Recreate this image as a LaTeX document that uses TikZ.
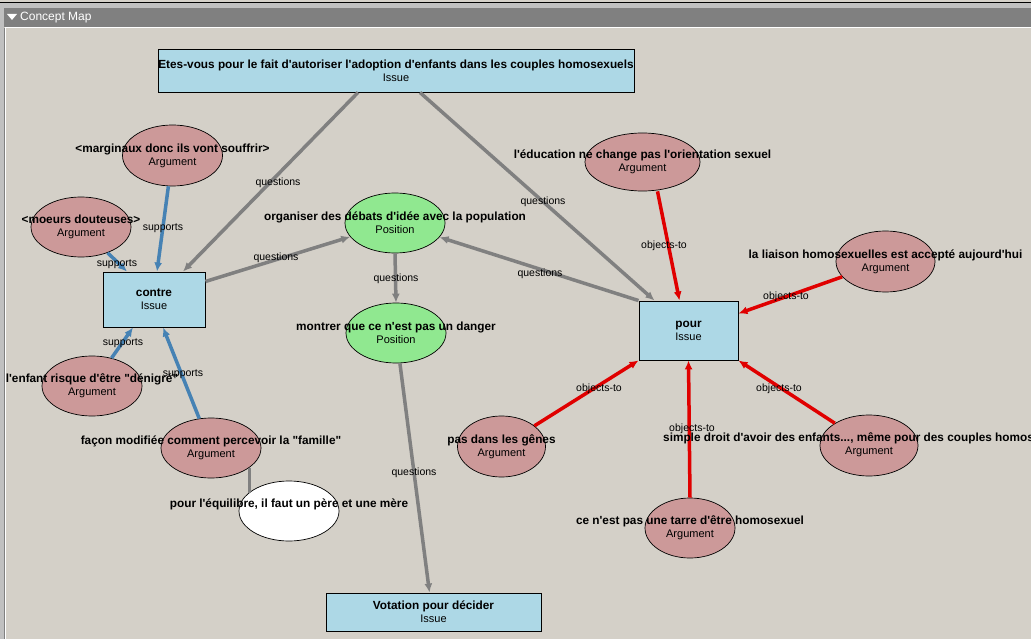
\documentclass[tikz,border=0pt]{standalone}
\usepackage{fontspec}
\setmainfont{Liberation Sans}[Ligatures=TeXOff]
\usetikzlibrary{shapes.geometric,arrows.meta}
\definecolor{bgc}{HTML}{D4D0C8}
\definecolor{issuec}{HTML}{ADD8E6}
\definecolor{argc}{HTML}{CC9999}
\definecolor{posc}{HTML}{90E890}
\definecolor{grayedge}{HTML}{808080}
\definecolor{blueedge}{HTML}{4682B4}
\definecolor{rededge}{HTML}{E00000}
\definecolor{barc}{HTML}{808080}
\definecolor{framec}{HTML}{C0C0C0}
\tikzset{
  issuebox/.style={draw=black, line width=0.9pt, fill=issuec, rectangle, inner sep=0pt, align=center},
  argnode/.style={draw=black, line width=0.7pt, fill=argc, ellipse, inner sep=0pt},
  posnode/.style={draw=black, line width=0.7pt, fill=posc, ellipse, inner sep=0pt},
  plainnode/.style={draw=black, line width=0.7pt, fill=white, ellipse, inner sep=0pt},
  txt/.style={align=center, inner sep=0pt},
  elbl/.style={font=\fontsize{10.5}{12}\selectfont, inner sep=0pt},
  qedge/.style={draw=grayedge, line width=3.5pt, -{Latex[length=9pt,width=8pt]}},
  sedge/.style={draw=blueedge, line width=3.5pt, -{Latex[length=9pt,width=8pt]}},
  oedge/.style={draw=rededge, line width=3.5pt, -{Latex[length=9pt,width=8pt]}},
  pedge/.style={draw=grayedge, line width=3.5pt},
}
\newcommand{\lb}[1]{{\fontsize{11.8}{13}\selectfont\bfseries #1}}
\newcommand{\ty}[1]{{\fontsize{11}{12}\selectfont #1}}
\begin{document}
\begin{tikzpicture}[x=1pt,y=-1pt]
\useasboundingbox (0,0) rectangle (1031,639);
% frame
\fill[bgc] (0,0) rectangle (1031,639);
\fill[framec] (0,3) rectangle (1031,8);
\fill[framec] (0,3) rectangle (4,639);
\draw[black, line width=1.2pt] (0,2.5) -- (1031,2.5);
\fill[barc] (4,8) rectangle (1031,27);
\draw[white, line width=1pt] (5,27.5) -- (1031,27.5);
\draw[grayedge, line width=1pt] (4.5,28) -- (4.5,639);
\draw[white, line width=1pt] (5.5,28) -- (5.5,639);
\fill[white] (7,14) -- (17,14) -- (12,20) -- cycle;
\node[anchor=west, text=white, inner sep=0pt, font=\fontsize{12}{14}\selectfont] (title) at (20,17.5) {Concept Map};

% issue boxes
\node[issuebox, minimum width=476pt, minimum height=43pt] (top) at (396,70.5)
  {\lb{Etes-vous pour le fait d'autoriser l'adoption d'enfants dans les couples homosexuels}\\[1pt]\ty{Issue}};
\node[issuebox, minimum width=102pt, minimum height=55pt] (contre) at (154,299.5)
  {\lb{contre}\\[1pt]\ty{Issue}};
\node[issuebox, minimum width=99pt, minimum height=59pt] (pour) at (688.5,330.5)
  {\lb{pour}\\[1pt]\ty{Issue}};
\node[issuebox, minimum width=215pt, minimum height=38pt] (vot) at (433.5,612)
  {\lb{Votation pour décider}\\[1pt]\ty{Issue}};

% ellipses
\node[argnode, minimum width=100pt, minimum height=61pt] (marg) at (172.5,155.5) {};
\node[argnode, minimum width=100pt, minimum height=60pt] (moe) at (81,227) {};
\node[argnode, minimum width=100pt, minimum height=60pt] (enf) at (92,386) {};
\node[argnode, minimum width=100pt, minimum height=60pt] (fac) at (211,448) {};
\node[plainnode, minimum width=100pt, minimum height=60pt] (equ) at (289,511) {};
\node[posnode, minimum width=100pt, minimum height=60pt] (org) at (395,223) {};
\node[posnode, minimum width=100pt, minimum height=60pt] (mon) at (396,333) {};
\node[argnode, minimum width=115pt, minimum height=58pt] (edu) at (642.5,162) {};
\node[argnode, minimum width=99pt, minimum height=61pt] (lia) at (885.5,261.5) {};
\node[argnode, minimum width=88pt, minimum height=61pt] (pas) at (501.5,446.5) {};
\node[argnode, minimum width=98pt, minimum height=61pt] (sim) at (869,445.5) {};
\node[argnode, minimum width=90pt, minimum height=60pt] (cen) at (690,528) {};

% connectors
\draw[qedge] ([xshift=-38pt]top.south) -- ([xshift=29pt]contre.north);
\draw[qedge] ([xshift=24pt]top.south) -- ([xshift=-34pt]pour.north);
\draw[qedge] ([yshift=18pt]contre.east) -- (org);
\draw[qedge] (pour.north west) -- (org);
\draw[qedge] (org.south) -- (mon.north);
\draw[qedge] (mon) -- ([xshift=-4pt]vot.north);
\draw[sedge] (marg) -- ([xshift=3pt]contre.north);
\draw[sedge] (moe) -- ([xshift=-27pt]contre.north);
\draw[sedge] (enf) -- ([xshift=-21pt]contre.south);
\draw[sedge] (fac) -- ([xshift=9pt]contre.south);
\draw[pedge] (fac.-27) -- (fac.-27 |- equ.156);
\draw[oedge] ([xshift=15pt]edu.south) -- ([xshift=-9pt]pour.north);
\draw[oedge] (lia) -- ([yshift=17pt]pour.east);
\draw[oedge] (pas) -- (pour.south west);
\draw[oedge] (cen.north) -- (pour.south);
\draw[oedge] (sim) -- (pour.south east);

% node texts
\node[txt] (margt) at (marg) {\lb{<marginaux donc ils vont souffrir>}\\[1pt]\ty{Argument}};
\node[txt] (moet) at (moe) {\lb{<moeurs douteuses>}\\[1pt]\ty{Argument}};
\node[txt] (enft) at (enf) {\lb{l'enfant risque d'être "dénigré"}\\[1pt]\ty{Argument}};
\node[txt] (fact) at (fac) {\lb{façon modifiée comment percevoir la "famille"}\\[1pt]\ty{Argument}};
\node[txt] (equt) at ([yshift=7pt]equ.center) {\lb{pour l'équilibre, il faut un père et une mère}};
\node[txt] (orgt) at (org) {\lb{organiser des débats d'idée avec la population}\\[1pt]\ty{Position}};
\node[txt] (mont) at (mon) {\lb{montrer que ce n'est pas un danger}\\[1pt]\ty{Position}};
\node[txt] (edut) at (edu) {\lb{l'éducation ne change pas l'orientation sexuel}\\[1pt]\ty{Argument}};
\node[txt] (liat) at (lia) {\lb{la liaison homosexuelles est accepté aujourd'hui}\\[1pt]\ty{Argument}};
\node[txt] (past) at (pas) {\lb{pas dans les gênes}\\[1pt]\ty{Argument}};
\node[txt] (cent) at (cen) {\lb{ce n'est pas une tarre d'être homosexuel}\\[1pt]\ty{Argument}};
\node[txt, anchor=west] (simt) at (663,438) {\lb{simple droit d'avoir des enfants..., même pour des couples homos}};
\node[txt] (simt2) at (sim.center |- 0,452) {\ty{Argument}};

% connector labels
\node[elbl] (l1) at (278,183) {questions};
\node[elbl] (l2) at (543,202) {questions};
\node[elbl] (l3) at (276,258) {questions};
\node[elbl] (l4) at (540,274) {questions};
\node[elbl] (l5) at (396,279) {questions};
\node[elbl] (l6) at (414,473) {questions};
\node[elbl] (l7) at (163,228) {supports};
\node[elbl] (l8) at (117,264) {supports};
\node[elbl] (l9) at (123,343) {supports};
\node[elbl] (l10) at (183,374) {supports};
\node[elbl] (l11) at (664,246) {objects-to};
\node[elbl] (l12) at (786,297) {objects-to};
\node[elbl] (l13) at (599,389) {objects-to};
\node[elbl] (l14) at (692,429) {objects-to};
\node[elbl] (l15) at (779,389) {objects-to};
\end{tikzpicture}
\end{document}
